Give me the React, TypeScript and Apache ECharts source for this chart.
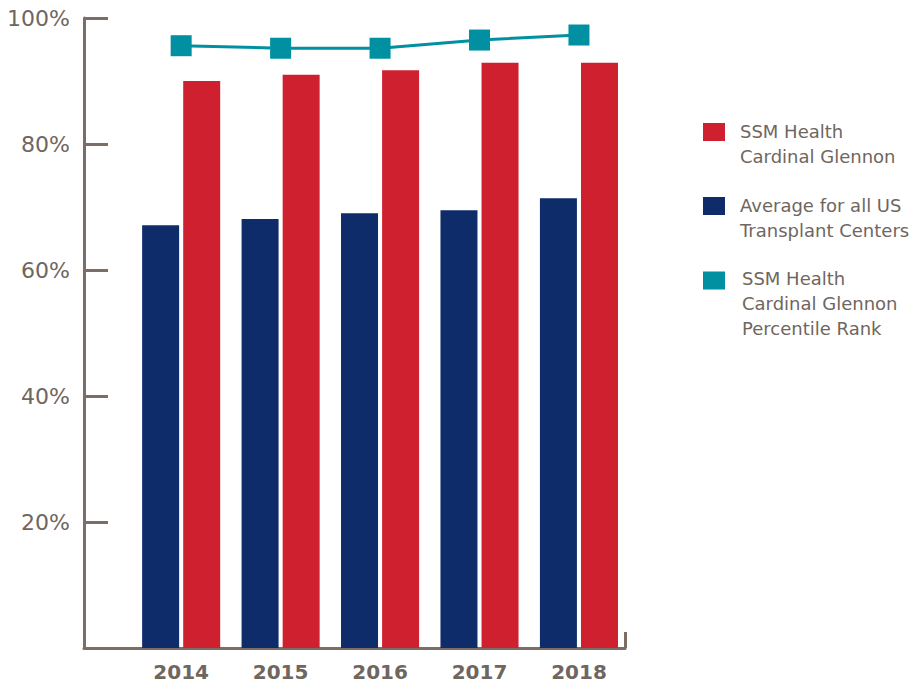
import React, { useEffect, useRef } from "react";
import * as echarts from "echarts";

const years = [2014, 2015, 2016, 2017, 2018];
const cardinalGlennon = [90.0, 91.0, 91.7, 92.9, 92.9];
const usAverage = [67.1, 68.1, 69.0, 69.5, 71.4];
const percentileRank = [95.6, 95.2, 95.2, 96.5, 97.3];
const yTicks = [0, 20, 40, 60, 80, 100];

const NAME_RED = "SSM Health Cardinal Glennon";
const NAME_NAVY = "Average for all US Transplant Centers";
const NAME_TEAL = "SSM Health Cardinal Glennon Percentile Rank";
const legendLabels: Record<string, string> = {
  [NAME_RED]: "SSM Health\nCardinal Glennon",
  [NAME_NAVY]: "Average for all US\nTransplant Centers",
  [NAME_TEAL]: "SSM Health\nCardinal Glennon\nPercentile Rank",
};

const RED = "#cf2030";
const NAVY = "#0e2b6a";
const TEAL = "#0090a1";
const AXIS = "#7a6e66";
const TEXT = "#6f6660";
const FONT = "DejaVu Sans";

const X_MIN = 2013.023;
const X_MAX = 2018.463;

function iconPath(h: number) {
  return `path://M0,0L22,0L22,18L0,18Z M0,${h}L0.001,${h}`;
}

function legendFor(name: string, color: string, top: number, h: number, gap: number) {
  return {
    orient: "vertical",
    left: 703,
    top,
    padding: 0,
    itemWidth: 22,
    itemHeight: h,
    itemGap: 0,
    selectedMode: false,
    data: [{ name, icon: iconPath(h), itemStyle: { color, borderWidth: 0 } }],
    itemStyle: { borderWidth: 0 },
    formatter: (n: string) => legendLabels[n],
    textStyle: { color: TEXT, fontFamily: FONT, fontSize: 18, lineHeight: 25, padding: [0, 0, 0, gap - 5] },
  };
}

export default function App() {
  const ref = useRef<HTMLDivElement>(null);
  useEffect(() => {
    if (!ref.current) return;
    const chart = echarts.init(ref.current, undefined, { renderer: "svg" });
    chart.setOption({
      animation: false,
      backgroundColor: "#ffffff",
      grid: { left: 84, right: 286, top: 18, bottom: 36, containLabel: false },
      legend: [
        legendFor(NAME_RED, RED, 119, 42, 15),
        legendFor(NAME_NAVY, NAVY, 193, 42, 15),
        legendFor(NAME_TEAL, TEAL, 266, 64, 17),
      ],
      xAxis: {
        type: "value",
        min: X_MIN,
        max: X_MAX,
        splitLine: { show: false },
        axisLine: { show: true, lineStyle: { color: AXIS, width: 3 } },
        axisTick: {
          show: true,
          inside: true,
          length: 16,
          customValues: [X_MAX],
          lineStyle: { color: AXIS, width: 3 },
        },
        axisLabel: {
          customValues: years,
          formatter: (v: number) => String(Math.round(v)),
          color: TEXT,
          fontFamily: FONT,
          fontSize: 20,
          fontWeight: "bold",
          margin: 14,
        },
      },
      yAxis: {
        type: "value",
        min: 0,
        max: 100,
        interval: 20,
        splitLine: { show: false },
        axisLine: { show: true, lineStyle: { color: AXIS, width: 3 } },
        axisTick: { show: true, inside: true, length: 24, lineStyle: { color: AXIS, width: 3 } },
        axisLabel: {
          showMinLabel: false,
          formatter: (v: number) => (yTicks.includes(v) && v > 0 ? `${v}%` : ""),
          color: TEXT,
          fontFamily: FONT,
          fontSize: 22,
          margin: 14,
        },
      },
      series: [
        {
          name: NAME_NAVY,
          type: "bar",
          data: years.map((y, i) => [y, usAverage[i]]),
          barWidth: 37,
          barGap: "11%",
          itemStyle: { color: NAVY },
        },
        {
          name: NAME_RED,
          type: "bar",
          data: years.map((y, i) => [y, cardinalGlennon[i]]),
          barWidth: 37,
          barGap: "11%",
          itemStyle: { color: RED },
        },
        {
          name: NAME_TEAL,
          type: "line",
          data: years.map((y, i) => [y, percentileRank[i]]),
          symbol: "rect",
          symbolSize: 21,
          lineStyle: { color: TEAL, width: 3 },
          itemStyle: { color: TEAL, borderWidth: 0 },
        },
      ],
    });
    return () => chart.dispose();
  }, []);
  return (
    <div
      ref={ref}
      style={{ position: "fixed", left: 0, top: 0, width: 911, height: 684 }}
    />
  );
}
